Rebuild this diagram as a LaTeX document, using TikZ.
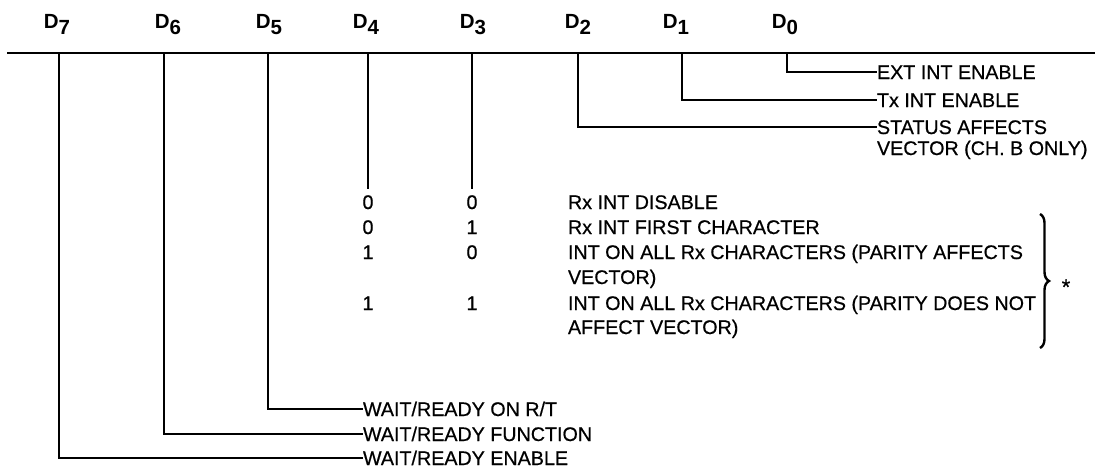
\documentclass[tikz,border=0pt]{standalone}
\usepackage{fontspec}
\setmainfont{Liberation Sans}
\newfontfamily\labelfont[FakeBold=0.6]{Liberation Sans}
\usetikzlibrary{decorations.pathreplacing}
\newcommand{\bitname}[1]{D\raisebox{-6pt}{#1}}
\begin{document}
\begin{tikzpicture}[x=1pt,y=-1pt,
  wire/.style={line width=1.3pt, line join=miter},
  lbl/.style={anchor=west, inner sep=0pt, outer sep=0pt, text height=14pt, text depth=0pt, font=\labelfont\fontsize{19.7}{24}\selectfont},
  val/.style={inner sep=0pt, text height=14pt, text depth=0pt, font=\labelfont\fontsize{19.7}{24}\selectfont},
  bitlbl/.style={anchor=base, inner sep=0pt, font=\fontsize{20.5}{24}\selectfont\bfseries}]
\useasboundingbox (0,0) rectangle (1095,469);

% bit headings
\node[bitlbl] (h7) at (57,28) {\bitname{7}};
\node[bitlbl] (h6) at (168,28) {\bitname{6}};
\node[bitlbl] (h5) at (269,28) {\bitname{5}};
\node[bitlbl] (h4) at (366,28) {\bitname{4}};
\node[bitlbl] (h3) at (473,28) {\bitname{3}};
\node[bitlbl] (h2) at (578,28) {\bitname{2}};
\node[bitlbl] (h1) at (676,28) {\bitname{1}};
\node[bitlbl] (h0) at (785,28) {\bitname{0}};

% register line
\coordinate (hl) at (7,53);
\coordinate (hr) at (1095,53);
\draw[wire] (hl) -- (hr);

\coordinate (b7) at (59,53);
\coordinate (b6) at (164,53);
\coordinate (b5) at (268,53);
\coordinate (b4) at (368,53);
\coordinate (b3) at (472,53);
\coordinate (b2) at (578,53);
\coordinate (b1) at (682,53);
\coordinate (b0) at (787,53);

% right labels
\node[lbl] (l0) at (877,72) {EXT INT ENABLE};
\node[lbl] (l1) at (877,100) {Tx INT ENABLE};
\node[lbl] (l2) at (877,127) {STATUS AFFECTS};
\node[lbl] (l2b) at (877,148) {VECTOR (CH. B ONLY)};
\draw[wire] (b0) |- (l0.west);
\draw[wire] (b1) |- (l1.west);
\draw[wire] (b2) |- (l2.west);

% D4 / D3
\coordinate (e4) at (368,189);
\coordinate (e3) at (472,189);
\draw[wire] (b4) -- (e4);
\draw[wire] (b3) -- (e3);

\node[val] (a1) at (368,202) {0};
\node[val] (c1) at (472,202) {0};
\node[lbl] (t1) at (568,202) {Rx INT DISABLE};
\node[val] (a2) at (368,227) {0};
\node[val] (c2) at (472,227) {1};
\node[lbl] (t2) at (568,227) {Rx INT FIRST CHARACTER};
\node[val] (a3) at (368,252) {1};
\node[val] (c3) at (472,252) {0};
\node[lbl] (t3) at (568,252) {INT ON ALL Rx CHARACTERS (PARITY AFFECTS};
\node[lbl] (t3b) at (568,277) {VECTOR)};
\node[val] (a4) at (368,303) {1};
\node[val] (c4) at (472,303) {1};
\node[lbl] (t4) at (568,303) {INT ON ALL Rx CHARACTERS (PARITY DOES NOT};
\node[lbl] (t4b) at (568,327) {AFFECT VECTOR)};

% brace
\coordinate (bt) at (1040,214);
\coordinate (bb) at (1040,348);
\draw[line width=2.4pt, decorate, decoration={brace, amplitude=9pt}] (bt) -- (bb);
\node[font=\labelfont\fontsize{22}{24}\selectfont, inner sep=0pt] (star) at (1066,287) {*};

% bottom labels
\node[lbl] (w5) at (363,409) {WAIT/READY ON R/T};
\node[lbl] (w6) at (363,434) {WAIT/READY FUNCTION};
\node[lbl] (w7) at (363,458) {WAIT/READY ENABLE};
\draw[wire] (b5) |- (w5.west);
\draw[wire] (b6) |- (w6.west);
\draw[wire] (b7) |- (w7.west);
\end{tikzpicture}
\end{document}
